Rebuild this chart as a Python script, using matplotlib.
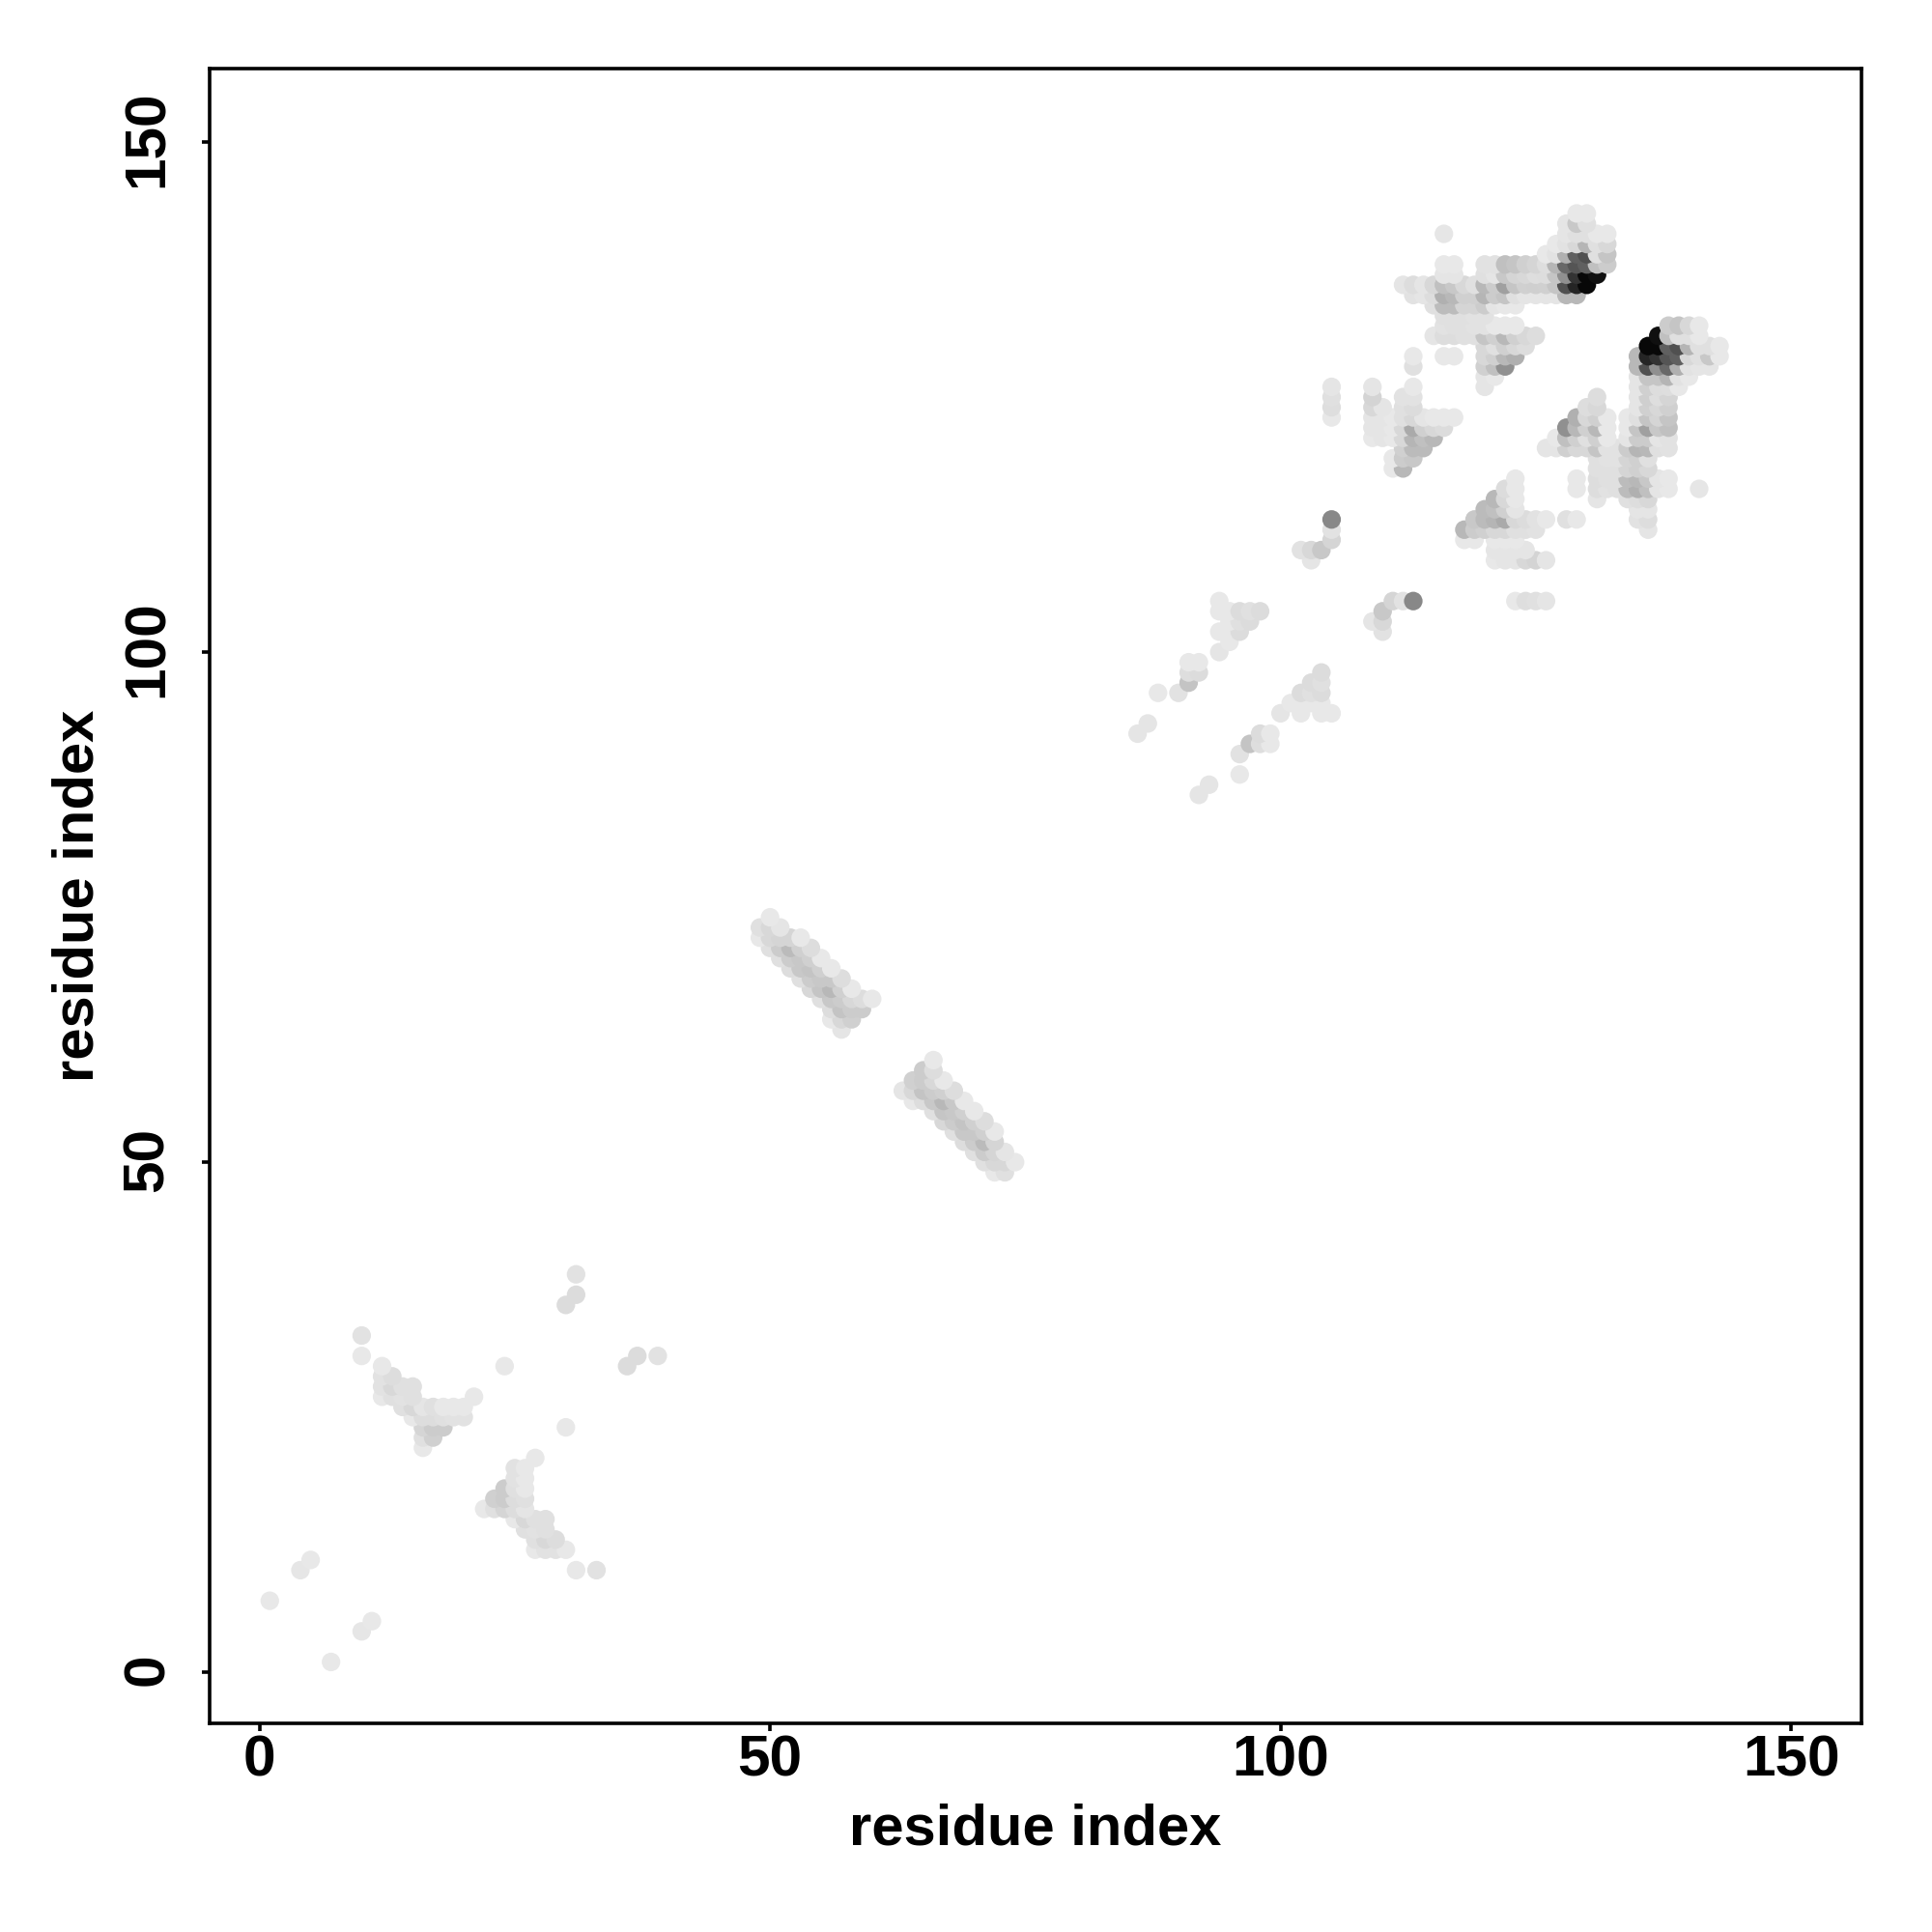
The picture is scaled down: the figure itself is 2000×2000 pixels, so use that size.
import numpy as np
import matplotlib
matplotlib.use("Agg")
import matplotlib.pyplot as plt
from matplotlib.transforms import ScaledTranslation

# Upper triangle of a symmetric contact map.
# Each row: (residue j, [residues i], [grey level of the contact, 0=black .. 255=white])
isolated_low = [
    (7, [1], [0xE8]), (10, [4], [0xE6]), (11, [5], [0xE8]),
    (31, [10], [0xE8]), (33, [10], [0xE2]), (30, [24], [0xE8]),
    (36, [30], [0xDC]), (37, [31], [0xDC]), (39, [31], [0xE2]),
]
sheet_low = [
    (22, [16], [0xE8]),
    (23, [16, 17], [0xE0, 0xD0]),
    (24, [16, 17, 18], [0xD5, 0xCC, 0xCC]),
    (25, [15, 16, 17, 18, 19, 20], [0xE8, 0xDD, 0xDD, 0xE0, 0xE2, 0xE2]),
    (26, [14, 15, 16, 17, 18, 19, 20], [0xE0, 0xD8, 0xE5, 0xE0, 0xE8, 0xE8, 0xE8]),
    (27, [12, 13, 14, 15, 21], [0xE8, 0xE0, 0xE2, 0xE0, 0xE8]),
    (28, [12, 13, 14, 15], [0xE2, 0xD8, 0xE0, 0xE0]),
    (29, [12, 13], [0xE2, 0xDD]),
    (30, [12], [0xE8]),
]
sheet_mid = [
    (63, [57], [0xE5]),
    (64, [56, 57, 58], [0xE8, 0xD8, 0xD0]),
    (65, [56, 57, 58, 59], [0xDD, 0xC4, 0xCC, 0xCC]),
    (66, [55, 56, 57, 58, 59, 60], [0xE0, 0xC8, 0xCC, 0xD8, 0xDD, 0xE8]),
    (67, [54, 55, 56, 57, 58], [0xD8, 0xC5, 0xB8, 0xD0, 0xE8]),
    (68, [53, 54, 55, 56, 57], [0xE0, 0xCC, 0xC8, 0xC8, 0xDD]),
    (69, [52, 53, 54, 55, 56], [0xDD, 0xC8, 0xC4, 0xD0, 0xE8]),
    (70, [51, 52, 53, 54, 55], [0xE0, 0xCC, 0xC8, 0xD0, 0xE8]),
    (71, [50, 51, 52, 53, 54], [0xE0, 0xCC, 0xBB, 0xD0, 0xDD]),
    (72, [49, 50, 51, 52, 53], [0xE8, 0xD8, 0xD5, 0xD5, 0xE8]),
    (73, [49, 50, 51], [0xE0, 0xD8, 0xE5]),
    (74, [50], [0xE8]),
]
sheet_high_a = [
    (92, [86], [0xE5]), (93, [87], [0xE5]),
    (96, [88, 90], [0xE8, 0xE2]),
    (97, [91], [0xC4]),
    (98, [91, 92], [0xDE, 0xDC]),
    (99, [91, 92], [0xE8, 0xE8]),
    (100, [94], [0xE5]), (101, [95], [0xE8]),
    (102, [94, 95, 96], [0xE8, 0xE8, 0xDC]),
    (103, [95, 96, 97], [0xE8, 0xE0, 0xDC]),
    (104, [94, 95, 96, 97, 98], [0xE8, 0xE8, 0xDC, 0xE0, 0xDC]),
    (105, [94], [0xE8]),
    (109, [103], [0xE5]),
    (110, [102, 103, 104], [0xE2, 0xD8, 0xC8]),
    (111, [105], [0xD5]), (112, [105], [0xE2]), (113, [105], [0x88]),
]
sheet_high_b = [
    (118, [111, 112], [0xE8, 0xB8]),
    (119, [111, 112, 113], [0xE8, 0xCC, 0xC8]),
    (120, [112, 113, 114], [0xD0, 0xBB, 0xBB]),
    (121, [109, 110, 111, 112, 113, 114, 115], [0xE8, 0xE5, 0xE8, 0xD8, 0xB5, 0xC0, 0xB8]),
    (122, [109, 110, 111, 112, 113, 114, 115, 116], [0xE5, 0xE5, 0xE8, 0xD8, 0xAA, 0xD0, 0xD8, 0xDC]),
    (123, [105, 109, 110, 111, 112, 113, 114, 115, 116, 117],
     [0xE8, 0xE5, 0xE5, 0xE8, 0xE0, 0xD8, 0xE5, 0xE8, 0xE8, 0xE8]),
    (124, [105, 109, 110, 112, 113], [0xDE, 0xD8, 0xE5, 0xE0, 0xDC]),
    (125, [105, 109, 112, 113], [0xE0, 0xD4, 0xE2, 0xE2]),
    (126, [105, 109, 113, 120], [0xE5, 0xE5, 0xE8, 0xE5]),
]
sheet_high_c = [
    (127, [120, 121], [0xE5, 0xE8]),
    (128, [113, 120, 121, 122], [0xE0, 0xD0, 0xC0, 0x90]),
    (129, [113, 116, 117, 120, 121, 122, 123], [0xE8, 0xE8, 0xE8, 0xD8, 0xD0, 0xB8, 0xB0]),
    (130, [120, 121, 122, 123, 124], [0xD8, 0xE0, 0xD0, 0xD8, 0xDD]),
    (131, [115, 116, 117, 118, 119, 120, 121, 122, 123, 124, 125],
     [0xE5, 0xDD, 0xDD, 0xE0, 0xE0, 0xC5, 0xD0, 0xB8, 0xD0, 0xD8, 0xDD]),
    (132, [116, 117, 118, 119, 120, 121, 122, 123], [0xE2, 0xE0, 0xE0, 0xE2, 0xE2, 0xE8, 0xE8, 0xE8]),
    (133, [116, 117, 118, 119, 120], [0xE0, 0xE0, 0xE0, 0xE2, 0xE2]),
    (134, [115, 116, 117, 118, 119, 120, 121, 122, 123], [0xE0, 0xBC, 0xBC, 0xD5, 0xD5, 0xCC, 0xE5, 0xE8, 0xE8]),
    (135, [113, 114, 115, 116, 117, 118, 119, 120, 121, 122, 123, 124, 125, 126, 127, 128, 129],
     [0xE2, 0xE5, 0xDD, 0xB0, 0xB8, 0xD0, 0xD0, 0xB5, 0xCC, 0xC5, 0xE0, 0xE5, 0xE5, 0xE5, 0xE5, 0xB8, 0xB8]),
    (136, [112, 113, 114, 115, 116, 117, 118, 119, 120, 121, 122, 123, 124, 125, 126, 127, 128, 129, 130],
     [0xE5, 0xDD, 0xE5, 0xD8, 0xC0, 0xC8, 0xD8, 0xE0, 0xB8, 0xCC, 0xA0, 0xC5, 0xD0, 0xCF, 0xD0, 0xC5, 0x50, 0x25, 0x08]),
    (137, [116, 117, 120, 121, 122, 123, 124, 125, 126, 127, 128, 129, 130, 131],
     [0xE5, 0xE5, 0xE0, 0xE5, 0xC8, 0xD5, 0xD8, 0xDE, 0xDD, 0xC5, 0x90, 0x33, 0x08, 0x10]),
    (138, [116, 117, 120, 121, 122, 123, 124, 125, 126, 127, 128, 129, 130, 131, 132],
     [0xE8, 0xE8, 0xE2, 0xE2, 0xC0, 0xC5, 0xD0, 0xD5, 0xDE, 0xB5, 0x68, 0x55, 0x60, 0xC0, 0xCC]),
    (139, [126, 127, 128, 129, 130, 131, 132], [0xE8, 0xE2, 0xB0, 0x60, 0x50, 0xE0, 0xC5]),
    (140, [127, 128, 129, 130, 131, 132], [0xE8, 0xE2, 0xD8, 0xB5, 0xE0, 0xD8]),
    (141, [116, 128, 129, 130, 131, 132], [0xE6, 0xE5, 0xE0, 0xE0, 0xE8, 0xE8]),
    (142, [128, 129, 130], [0xE5, 0xC8, 0xE0]),
    (143, [129, 130], [0xE8, 0xE8]),
]
contact_clusters = [isolated_low, sheet_low, sheet_mid, sheet_high_a, sheet_high_b, sheet_high_c]

tick_values = [0, 50, 100, 150]
axis_title = "residue index"

rows_i, rows_j, rows_g = [], [], []
for cluster in contact_clusters:
    for j, residues, greys in cluster:
        for i, g in zip(residues, greys):
            rows_i += [i, j]
            rows_j += [j, i]
            rows_g += [g, g]
res_x = np.array(rows_i)
res_y = np.array(rows_j)
grey = np.array(rows_g)
order = np.lexsort((res_x, res_y))

plt.rcParams['font.family'] = ['Liberation Sans', 'DejaVu Sans']
fig = plt.figure(figsize=(20, 20), dpi=100, facecolor='white')
ax = fig.add_axes([216.5 / 2000, 1 - 1783.5 / 2000, (1927 - 216.5) / 2000, (1783.5 - 71) / 2000])
ax.scatter(res_x[order], res_y[order], c=grey[order], cmap='gray', vmin=0, vmax=255,
           s=192, linewidths=0, zorder=2)
ax.set_xlim(-4.94, 156.9)
ax.set_ylim(-4.97, 157.2)
ax.set_xticks(tick_values)
ax.set_yticks(tick_values)
ax.tick_params(axis='both', length=5.8, width=2.6, color='black', labelsize=43.5)
ax.tick_params(axis='x', pad=3)
ax.tick_params(axis='y', pad=20)
y_shift = ScaledTranslation(0, 3 / 100, fig.dpi_scale_trans)
for t in ax.get_xticklabels():
    t.set_fontweight('bold')
for t in ax.get_yticklabels():
    t.set_fontweight('bold')
    t.set_rotation(90)
    t.set_va('center')
    t.set_transform(t.get_transform() + y_shift)
for s in ax.spines.values():
    s.set_linewidth(2.6)
ax.set_xlabel(axis_title, fontsize=43, fontweight='bold')
ax.set_ylabel(axis_title, fontsize=43, fontweight='bold')
ax.xaxis.set_label_coords(0.5, 1 - (1894.5 - 71) / (1783.5 - 71), transform=ax.transAxes)
ax.yaxis.set_label_coords((81.5 - 216.5) / (1927 - 216.5), 0.5, transform=ax.transAxes)
ax.xaxis.label.set_va('center')
ax.yaxis.label.set_va('center')
fig.savefig('out.png', dpi=100, facecolor='white')
